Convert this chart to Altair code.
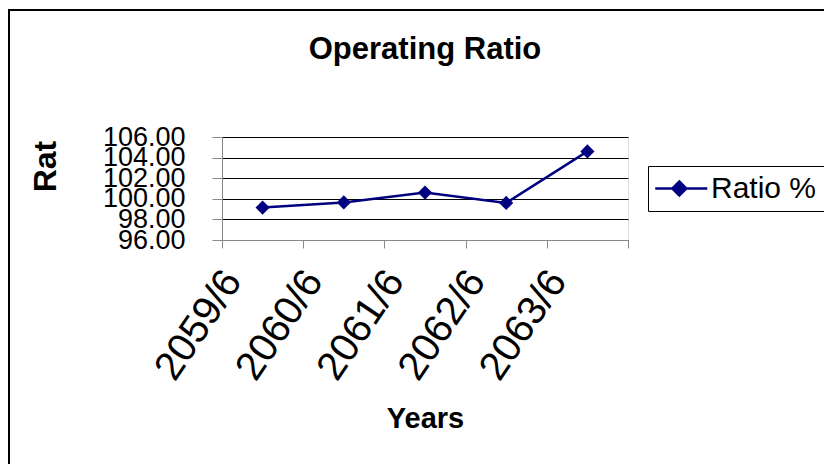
import altair as alt
import pandas as pd

# Operating ratio by fiscal year
years = ["2059/60", "2060/61", "2061/62", "2062/63", "2063/64"]
ratio = [99.15, 99.65, 100.6, 99.6, 104.6]
series = ["Ratio %"] * len(years)

df = pd.DataFrame({"Year": years, "Ratio": ratio, "Series": series})

FONT = "Liberation Sans"
NAVY = "#000080"

# legend glyph: a line with a diamond in its middle
legend_glyph = "M-1.09,0H2.63M0.63,-0.5L1.13,0L0.63,0.5L0.13,0Z"

base = alt.Chart(df)

line = base.mark_line(
    color=NAVY,
    strokeWidth=2.5,
    point=alt.OverlayMarkDef(filled=True, shape="diamond", size=200, color=NAVY),
).encode(
    x=alt.X(
        "Year:N",
        sort=years,
        scale=alt.Scale(paddingInner=0, paddingOuter=0),
        axis=alt.Axis(
            title="Years",
            titleFontSize=29,
            titleFontWeight="bold",
            titleFont=FONT,
            titleX=203,
            titleY=187,
            titleAlign="center",
            titleBaseline="alphabetic",
            tickBand="extent",
            labelExpr="slice(datum.label, 0, 6)",
            labelAngle=-56,
            labelAlign="right",
            labelBaseline="middle",
            labelFontSize=40,
            labelFont=FONT,
            labelOffset=-30,
            labelPadding=26,
            labelOverlap=False,
            tickSize=8,
            grid=False,
        ),
    ),
    y=alt.Y(
        "Ratio:Q",
        scale=alt.Scale(domain=[96, 106], nice=False, zero=False),
        axis=alt.Axis(
            title="Rat",
            titleFontSize=32,
            titleFontWeight="bold",
            titleFont=FONT,
            titleAngle=-90,
            titleAlign="center",
            titleBaseline="middle",
            titleX=-177,
            titleY=29,
            values=[96, 98, 100, 102, 104, 106],
            format=".2f",
            labelFontSize=27,
            labelFont=FONT,
            labelPadding=27,
            labelOverlap=False,
            tickSize=10,
            grid=True,
            gridColor="#000000",
            gridWidth=1,
        ),
    ),
    color=alt.Color(
        "Series:N",
        scale=alt.Scale(range=[NAVY]),
        legend=alt.Legend(
            title=None,
            orient="none",
            legendX=426,
            legendY=29,
            padding=7,
            strokeColor="#000000",
            fillColor="#ffffff",
            symbolType=legend_glyph,
            symbolSize=784,
            symbolStrokeWidth=2.5,
            symbolFillColor=NAVY,
            symbolStrokeColor=NAVY,
            labelFontSize=30,
            labelFont=FONT,
            labelOffset=25,
        ),
    ),
)

deco = alt.Data(values=[{"k": 0}])

# frame around the whole chart
frame = alt.Chart(deco).mark_rect(filled=False, stroke="#000000", strokeWidth=2).encode(
    x=alt.value(-213), y=alt.value(-127), x2=alt.value(700), y2=alt.value(400)
)

chart = alt.layer(line, frame).properties(
    width=406,
    height=103,
    autosize="none",
    padding={"left": 222, "top": 137, "right": 196, "bottom": 224},
    title=alt.Title(
        "Operating Ratio",
        fontSize=31,
        fontWeight="bold",
        font=FONT,
        anchor="middle",
        offset=0,
        baseline="alphabetic",
        dy=81,
        color="#000000",
    ),
).configure_view(
    fill="#C0C0C0", stroke="#808080", strokeWidth=2
).configure_axis(
    domainColor="#000000",
    domainWidth=2,
    tickColor="#000000",
    tickWidth=1.5,
    labelColor="#000000",
    titleColor="#000000",
).configure(background="#ffffff")

chart.save("out.html", embed_options={"renderer": "svg", "actions": False})
